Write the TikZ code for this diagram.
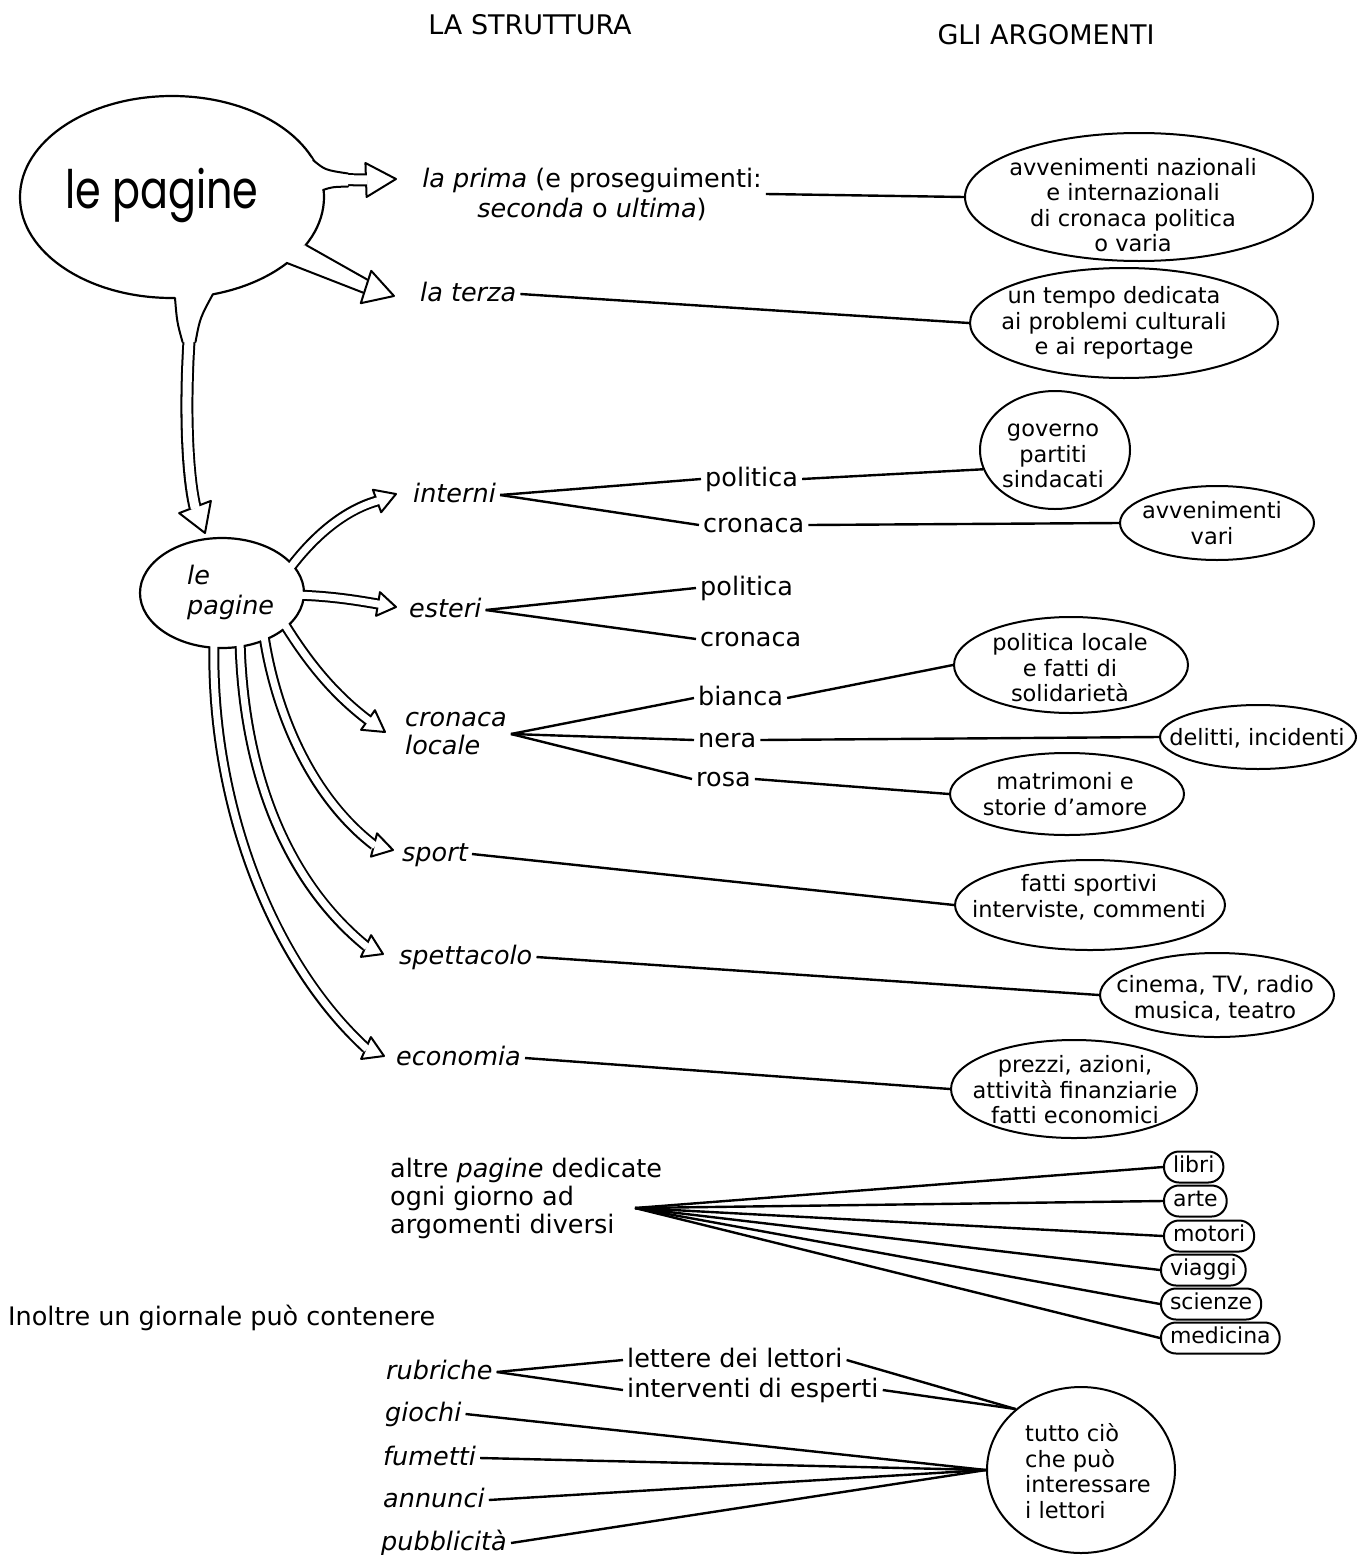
\documentclass[tikz,border=0pt]{standalone}
\usepackage{fontspec}
\setmainfont{DejaVu Sans}
\newfontfamily\bigfont[FakeStretch=0.78]{Poppins}
\usetikzlibrary{calc,shapes.geometric}
\pgfdeclarelayer{back}
\pgfsetlayers{back,main}
\begin{document}
\begin{tikzpicture}[x=1pt,y=-1pt,
  txt/.style={inner xsep=4pt, inner ysep=3pt, font=\fontsize{25.5}{30}\selectfont},
  lab/.style={txt, anchor=west, text height=14pt, text depth=0pt},
  ilab/.style={lab, font=\fontsize{25.5}{30}\selectfont\itshape},
  headtxt/.style={inner sep=2pt, font=\fontsize{27}{30}\selectfont},
  oval/.style={ellipse, draw, line width=2pt, inner sep=0pt},
  otext/.style={align=center, inner sep=0pt, font=\fontsize{22.5}{25.5}\selectfont},
  bubble/.style={ellipse, draw, line width=2.2pt, fill=white, inner sep=0pt},
  con/.style={line width=2.4pt},
  edge/.style={line width=2pt, line cap=round},
  flare/.style={fill=white, draw=none},
  pill/.style={draw, line width=2pt, rounded corners=15pt, minimum height=31pt,
    inner xsep=9pt, inner ysep=0pt, anchor=west, text height=16pt, text depth=5pt,
    font=\fontsize{22}{24}\selectfont},
  headst/.style={draw, line width=2pt, fill=white, line join=round}
]
\useasboundingbox (0,0) rectangle (1370,1555);

% headings
\node[headtxt] (h1) at (530,25) {LA STRUTTURA};
\node[headtxt] (h2) at (1046,35) {GLI ARGOMENTI};

% bubbles
\node[bubble, minimum width=304pt, minimum height=202pt] (big) at (172,197) {};
\node[bubble, minimum width=164pt, minimum height=110pt] (small) at (222,593) {};

% arrow geometry
\coordinate (s1) at (300,175); \coordinate (p1) at (325,178); \coordinate (q1) at (345,180); \coordinate (e1) at (366,180); \coordinate (t1) at (396,179);
\coordinate (e2) at (366,287); \coordinate (t2) at (394,296);
\coordinate (s3) at (194,285); \coordinate (p3) at (183,380); \coordinate (q3) at (186,470); \coordinate (e3) at (195,507); \coordinate (t3) at (205,533);
\coordinate (s4) at (290,568); \coordinate (p4) at (315,535); \coordinate (q4) at (345,510); \coordinate (e4) at (377,501); \coordinate (t4) at (396,494);
\coordinate (s5) at (295,595); \coordinate (p5) at (330,596); \coordinate (q5) at (355,600); \coordinate (e5) at (378,604); \coordinate (t5) at (396,607);
\coordinate (s6) at (285,625); \coordinate (p6) at (310,665); \coordinate (q6) at (335,695); \coordinate (e6) at (368,720); \coordinate (t6) at (385,732);
\coordinate (s7) at (264,636); \coordinate (p7) at (277,720); \coordinate (q7) at (315,800); \coordinate (e7) at (374,845); \coordinate (t7) at (393,850);
\coordinate (s8) at (240,640); \coordinate (p8) at (243,770); \coordinate (q8) at (285,880); \coordinate (e8) at (366,946); \coordinate (t8) at (383,954);
\coordinate (s9) at (214,640); \coordinate (p9) at (210,800); \coordinate (q9) at (270,960); \coordinate (e9) at (366,1048); \coordinate (t9) at (384,1056);

\begin{pgfonlayer}{back}
\foreach \i/\w in {1/13,3/13,4/11,5/11,6/11,7/11,8/11,9/11}
  \draw[line width=\w pt] (s\i) .. controls (p\i) and (q\i) .. (e\i);
\end{pgfonlayer}

% flared roots of the big arrows
\fill[flare] (306,154) -- (313,160) .. controls (325,170) .. (348,173.5) -- (348,186.5) .. controls (332,187) .. (323,190) -- (314,196) -- cycle;
\draw[edge] (313,160) .. controls (325,170) .. (348,173.5);
\draw[edge] (323,190) .. controls (332,187) .. (348,186.5);
\fill[flare] (306,245) -- (368,280) -- (364,293) -- (287,263) -- (285,250) -- cycle;
\draw[edge] (306,245) -- (368,280);
\draw[edge] (287,263) -- (364,293);
\fill[flare] (176,288) -- (175,298) .. controls (177,322) .. (182.5,342) -- (195.5,342) .. controls (200,318) .. (213,294) -- (212,285) -- cycle;
\draw[edge] (175,298) .. controls (177,322) .. (182.5,342);
\draw[edge] (213,294) .. controls (200,318) .. (195.5,342);

\foreach \i/\h in {1/17,2/17,3/17,4/12,5/12,6/12,7/12,8/12,9/12}
  \draw[headst] ($(e\i)!\h pt!90:(t\i)$) -- (t\i) -- ($(e\i)!\h pt!-90:(t\i)$) -- cycle;
\foreach \i/\w in {1/9,3/9,4/7,5/7,6/7,7/7,8/7,9/7}
  \draw[white, line width=\w pt, shorten >=-1.5pt] (s\i) .. controls (p\i) and (q\i) .. (e\i);

\node[inner sep=0pt, anchor=base, font=\fontsize{53}{60}\bigfont] (bigt) at (162,208) {le pagine};
\node[txt, align=left, anchor=west, font=\fontsize{25.5}{30}\selectfont\itshape] (smallt) at (183,592) {le\\pagine};

% structure labels
\node[txt, align=center] (prima) at (592,194) {\textit{la prima} (e proseguimenti:\\\textit{seconda} o \textit{ultima})};
\node[ilab] (terza) at (416,294) {la terza};
\node[ilab] (interni) at (409,495) {interni};
\node[lab] (ipol) at (701,479) {politica};
\node[lab] (icro) at (699,525) {cronaca};
\node[ilab] (esteri) at (405,610) {esteri};
\node[lab] (epol) at (696,588) {politica};
\node[lab] (ecro) at (696,639) {cronaca};
\node[txt, align=left, anchor=west, font=\fontsize{25.5}{28}\selectfont\itshape] (cloc) at (401,734) {cronaca\\locale};
\node[lab] (bianca) at (694,698) {bianca};
\node[lab] (nera) at (694,740) {nera};
\node[lab] (rosa) at (692,779) {rosa};
\node[ilab] (sport) at (398,854) {sport};
\node[ilab] (spett) at (395,957) {spettacolo};
\node[ilab] (econ) at (392,1058) {economia};

% argument ellipses
\node[oval, minimum width=348pt, minimum height=128pt] (arg1) at (1139,197) {};
\node[otext] (arg1t) at (1133,205) {avvenimenti nazionali\\e internazionali\\di cronaca politica\\o varia};
\node[oval, minimum width=308pt, minimum height=110pt] (arg2) at (1124,323) {};
\node[otext] (arg2t) at (1114,323) {un tempo dedicata\\ai problemi culturali\\e ai reportage};
\node[oval, minimum width=150pt, minimum height=118pt] (gov) at (1055,450) {};
\node[otext] (govt) at (1053,456) {governo\\partiti\\sindacati};
\node[oval, minimum width=194pt, minimum height=74pt] (avv) at (1217,523) {};
\node[otext] (avvt) at (1212,523) {avvenimenti\\vari};
\node[oval, minimum width=234pt, minimum height=96pt] (ploc) at (1071,665) {};
\node[otext] (ploct) at (1070,668) {politica locale\\e fatti di\\solidarietà};
\node[oval, minimum width=196pt, minimum height=64pt] (delitti) at (1258,737) {};
\node[otext] (delittit) at (1257,738) {delitti, incidenti};
\node[oval, minimum width=234pt, minimum height=82pt] (matr) at (1067,794) {};
\node[otext] (matrt) at (1065,794) {matrimoni e\\storie d’amore};
\node[oval, minimum width=270pt, minimum height=90pt] (fsport) at (1090,905) {};
\node[otext] (fsportt) at (1089,897) {fatti sportivi\\interviste, commenti};
\node[oval, minimum width=234pt, minimum height=84pt] (cine) at (1217,995) {};
\node[otext] (cinet) at (1215,998) {cinema, TV, radio\\musica, teatro};
\node[oval, minimum width=246pt, minimum height=98pt] (prezzi) at (1074,1089) {};
\node[otext] (prezzit) at (1075,1090) {prezzi, azioni,\\attività finanziarie\\fatti economici};

% connectors
\draw[con] (prima.east) -- (arg1.west);
\draw[con] (terza.east) -- (arg2.west);
\draw[con] (interni.east) -- (ipol.west);
\draw[con] (interni.east) -- (icro.west);
\draw[con] (ipol.east) -- (gov.195);
\draw[con] (icro.east) -- (avv.west);
\draw[con] (esteri.east) -- (epol.west);
\draw[con] (esteri.east) -- (ecro.west);
\draw[con] (cloc.east) -- (bianca.west);
\draw[con] (cloc.east) -- (nera.west);
\draw[con] (cloc.east) -- (rosa.west);
\draw[con] (bianca.east) -- (ploc.west);
\draw[con] (nera.east) -- (delitti.west);
\draw[con] (rosa.east) -- (matr.west);
\draw[con] (sport.east) -- (fsport.west);
\draw[con] (spett.east) -- (cine.west);
\draw[con] (econ.east) -- (prezzi.west);

% altre pagine
\node[txt, align=left, anchor=west, font=\fontsize{25.5}{28}\selectfont] (altre) at (386,1198) {altre \textit{pagine} dedicate\\ogni giorno ad\\argomenti diversi};
\coordinate (fan) at (635,1208);
\node[pill] (libri) at (1163,1167) {libri};
\node[pill] (arte) at (1163,1201) {arte};
\node[pill] (motori) at (1163,1236) {motori};
\node[pill] (viaggi) at (1160,1270) {viaggi};
\node[pill] (scienze) at (1160,1304) {scienze};
\node[pill] (medicina) at (1160,1338) {medicina};
\foreach \n in {libri,arte,motori,viaggi,scienze,medicina}
  \draw[con] (fan) -- (\n.west);

% bottom part
\node[lab] (inoltre) at (4,1318) {Inoltre un giornale può contenere};
\node[ilab] (rubr) at (382,1372) {rubriche};
\node[lab] (lettere) at (623,1360) {lettere dei lettori};
\node[lab] (interv) at (623,1390) {interventi di esperti};
\node[ilab] (giochi) at (381,1414) {giochi};
\node[ilab] (fumetti) at (379,1458) {fumetti};
\node[ilab] (annunci) at (379,1500) {annunci};
\node[ilab] (pubbl) at (377,1543) {pubblicità};
\node[oval, minimum width=188pt, minimum height=166pt] (tutto) at (1081,1470) {};
\node[otext, align=left, anchor=west, font=\fontsize{22.5}{25.7}\selectfont] (tuttot) at (1025,1471) {tutto ciò\\che può\\interessare\\i lettori};
\draw[con] (rubr.east) -- (lettere.west);
\draw[con] (rubr.east) -- (interv.west);
\draw[con] (lettere.east) -- (tutto.137);
\draw[con] (interv.east) -- (tutto.137);
\foreach \n in {giochi,fumetti,annunci,pubbl}
  \draw[con] (\n.east) -- (tutto.west);
\end{tikzpicture}
\end{document}
